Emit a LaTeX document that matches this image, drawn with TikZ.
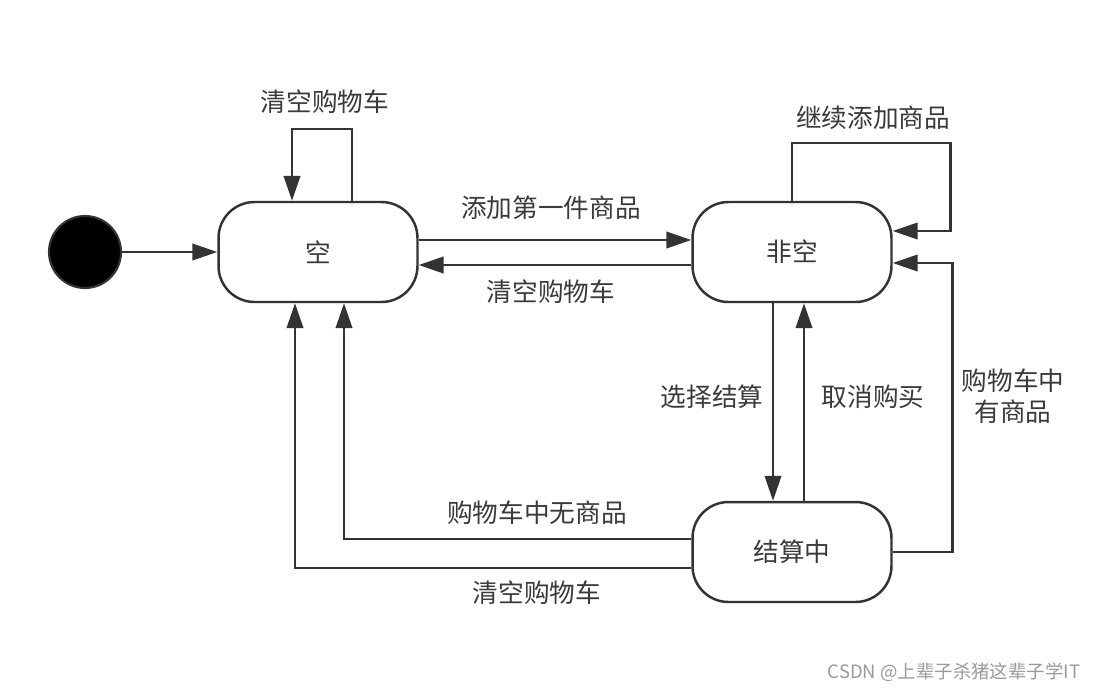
\documentclass[tikz,border=0pt]{standalone}
\usepackage{fontspec}
\setmainfont{Noto Sans CJK SC}
\usepackage{tikz}
\usetikzlibrary{arrows.meta,positioning,calc}
\definecolor{trait}{HTML}{333333}
\definecolor{texte}{HTML}{3A3A3A}
\definecolor{marque}{HTML}{9A9A9A}
\tikzset{
  etat/.style={rectangle, rounded corners=0.72cm, draw=trait, line width=1.4pt, fill=white,
               minimum width=3.98cm, minimum height=2cm, font=\fontsize{14.6}{17.5}\selectfont, text=texte},
  lbl/.style={font=\fontsize{14.6}{17.5}\selectfont, text=texte, align=center},
  arr/.style={-{Triangle[length=0.5cm, width=0.33cm]}, line width=1.4pt, draw=trait},
}

\begin{document}
\begin{tikzpicture}[x=0.02cm, y=-0.02cm]
    \useasboundingbox (0,0) rectangle (1102,691);
    \node[circle, fill=black, draw=trait, line width=1.2pt, minimum size=1.44cm, inner sep=0pt] (init) at (85,252) {};
    \node[etat] (vide) at (318,252) {空};
    \node[etat] (plein) at (792,252) {非空};
    \node[etat] (caisse) at (792,552) {结算中};

    \draw[arr] (init) -- (vide);
    \draw[arr] ($(vide.north)+(34,0)$) |- ($(vide.north)+(-26,-72)$) -- ($(vide.north)+(-26,0)$);
    \draw[arr] ($(vide.east)+(0,-12)$) -- ($(plein.west)+(0,-12)$);
    \draw[arr] ($(plein.west)+(0,13)$) -- ($(vide.east)+(0,13)$);
    \draw[arr] (plein.north) |- ($(plein.east)+(58,-109)$) |- ($(plein.east)+(0,-21)$);
    \draw[arr] ($(plein.south)+(-19,0)$) -- ($(caisse.north)+(-19,0)$);
    \draw[arr] ($(caisse.north)+(12,0)$) -- ($(plein.south)+(12,0)$);
    \draw[arr] (caisse.east) -| ($(plein.east)+(60,11)$) -- ($(plein.east)+(0,11)$);
    \draw[arr] ($(caisse.west)+(0,-13)$) -| ($(vide.south)+(26,0)$);
    \draw[arr] ($(caisse.west)+(0,16)$) -| ($(vide.south)+(-23,0)$);

    \node[lbl] (l1) at (325,102) {清空购物车};
    \node[lbl] (l2) at (551,208) {添加第一件商品};
    \node[lbl] (l3) at (551,292) {清空购物车};
    \node[lbl] (l4) at (873,118) {继续添加商品};
    \node[lbl] (l5) at (712,397) {选择结算};
    \node[lbl] (l6) at (873,397) {取消购买};
    \node[lbl] (l7) at (1013,396) {购物车中\\有商品};
    \node[lbl] (l8) at (537,513) {购物车中无商品};
    \node[lbl] (l9) at (537,593) {清空购物车};
    \node[font=\fontsize{10.5}{12}\selectfont, text=marque] (filigrane) at (954,672) {CSDN @上辈子杀猪这辈子学IT};
  \end{tikzpicture}
\end{document}
